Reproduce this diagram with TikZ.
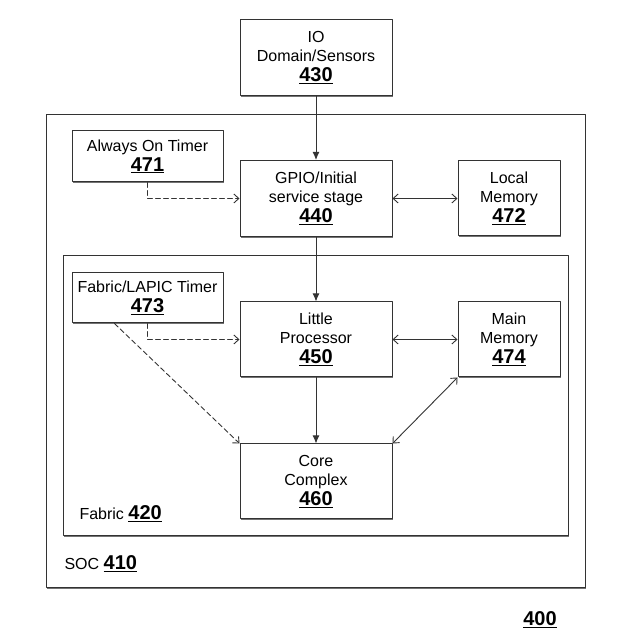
\documentclass[tikz,border=0pt]{standalone}
\usepackage{fontspec}
\setmainfont{Liberation Sans}
\usetikzlibrary{arrows.meta,shadows}

\tikzset{
  unit/.style={draw=black!80,line width=1pt,fill=white,align=center,inner sep=0pt,
    drop shadow={shadow xshift=1.3pt,shadow yshift=-1.3pt,fill=black!55,opacity=1},
    font=\fontsize{16}{19}\selectfont},
  wide/.style={unit,minimum width=152pt,minimum height=76pt},
  narrow/.style={unit,minimum width=102pt,minimum height=75pt},
  timer/.style={unit,minimum width=151pt,minimum height=51pt},
  feed/.style={draw=black!80,line width=1pt,-{Latex[length=8pt,width=7pt]}},
  link/.style={draw=black!80,line width=0.9pt,{Straight Barb[length=5pt,width=9pt]}-{Straight Barb[length=5pt,width=9pt]}},
  tick/.style={draw=black!80,line width=0.9pt,dash pattern=on 5pt off 3pt,-{Straight Barb[length=5pt,width=9pt]}}
}
\newcommand{\refnum}[1]{{\fontsize{20}{22}\selectfont\bfseries\underline{#1}}}

\begin{document}
\begin{tikzpicture}[x=1pt,y=-1pt,line cap=round,line join=round]
        \useasboundingbox (0,0) rectangle (641,636);

        % outer frames
        \draw[unit] (46,115) rectangle (585,588);
        \draw[unit] (63,256) rectangle (568,536);

        \node[wide] (io) at (316,57.5) {IO\\Domain/Sensors\\[1pt]\refnum{430}};
        \node[timer] (always) at (147.5,156.5) {Always On Timer\\[1pt]\refnum{471}};
        \node[wide] (gpio) at (316,198.5) {GPIO/Initial\\service stage\\[1pt]\refnum{440}};
        \node[narrow] (local) at (509,198.5) {Local\\Memory\\[1pt]\refnum{472}};
        \node[timer,minimum height=50pt] (lapic) at (147.5,298) {Fabric/LAPIC Timer\\[1pt]\refnum{473}};
        \node[wide,minimum height=75pt] (little) at (316,339.5) {Little\\Processor\\[1pt]\refnum{450}};
        \node[narrow] (main) at (509,339.5) {Main\\Memory\\[1pt]\refnum{474}};
        \node[wide,minimum height=75pt] (core) at (316,481.5) {Core\\Complex\\[1pt]\refnum{460}};

        \node[anchor=west,font=\fontsize{16}{19}\selectfont] (fabric) at (76,514) {Fabric \refnum{420}};
        \node[anchor=west,font=\fontsize{16}{19}\selectfont] (soc) at (61,564) {SOC \refnum{410}};
        \node[font=\fontsize{16}{19}\selectfont] (fig) at (540,620) {\refnum{400}};

        \draw[feed] (io) -- (gpio);
        \draw[feed] (gpio) -- (little);
        \draw[feed] (little) -- (core);
        \draw[link] (gpio) -- (local);
        \draw[link] (little) -- (main);
        \draw[link] (main.south west) -- (core.north east);
        \draw[tick] (always.south) |- (gpio.west);
        \draw[tick] (lapic.south) |- (little.west);
        \draw[tick] ([xshift=43pt]lapic.south west) -- (core.north west);
      \end{tikzpicture}
\end{document}
